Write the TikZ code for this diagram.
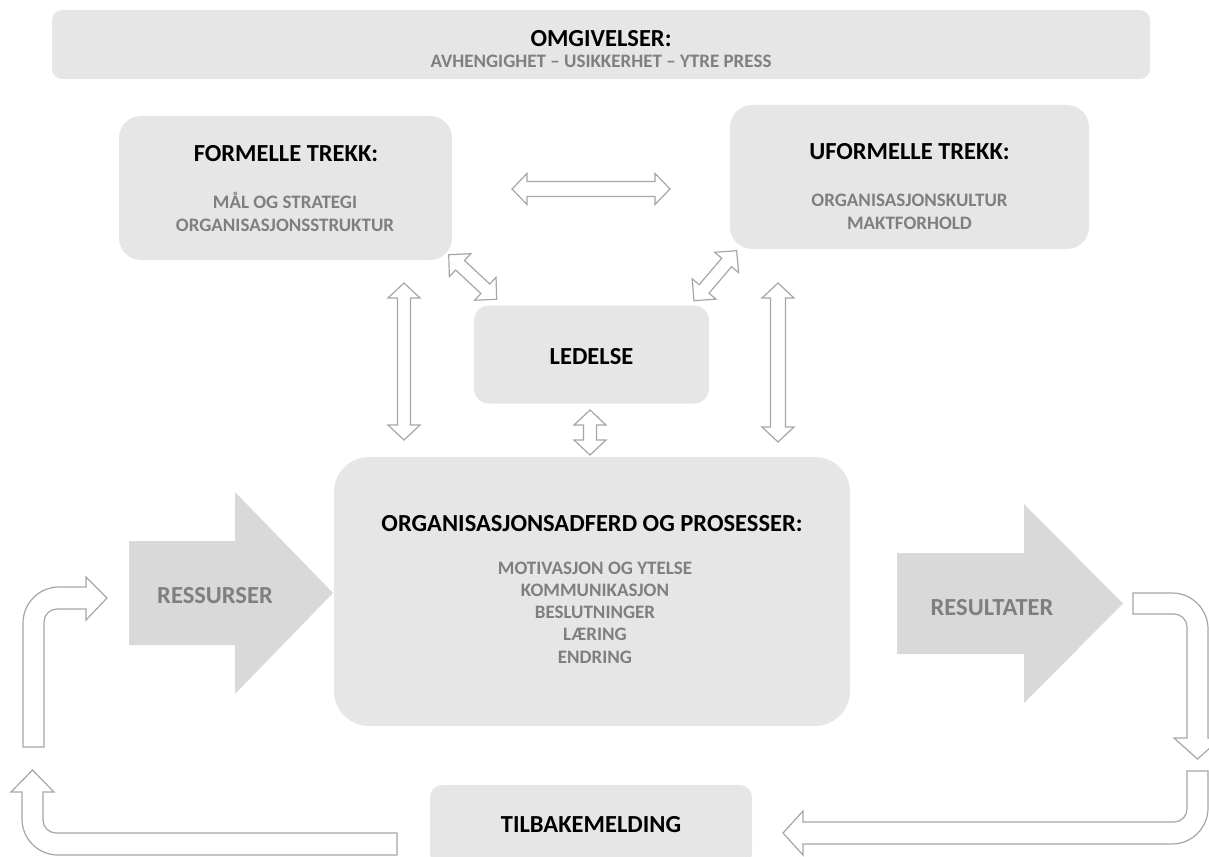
\documentclass[tikz,border=0pt]{standalone}
\usepackage{fontspec}
\setmainfont{Carlito}
\usetikzlibrary{calc}

\definecolor{boxfill}{HTML}{E6E6E6}
\definecolor{blockfill}{HTML}{D9D9D9}
\definecolor{softtext}{HTML}{7F7F7F}
\definecolor{outline}{HTML}{A6A6A6}

% Hollow two-headed arrow between two named points:
% #1,#2 end points, #3 shaft half width, #4 head half width, #5 head length
\newcommand\twoway[5]{%
  \pgfmathsetmacro\dS{veclen(#5,#3)}\pgfmathsetmacro\aS{atan2(#3,#5)}%
  \pgfmathsetmacro\dH{veclen(#5,#4)}\pgfmathsetmacro\aH{atan2(#4,#5)}%
  \draw[hollow] (#1) -- ($(#1)!\dH pt!\aH:(#2)$) -- ($(#1)!\dS pt!\aS:(#2)$)
    -- ($(#2)!\dS pt!-\aS:(#1)$) -- ($(#2)!\dH pt!-\aH:(#1)$) -- (#2)
    -- ($(#2)!\dH pt!\aH:(#1)$) -- ($(#2)!\dS pt!\aS:(#1)$)
    -- ($(#1)!\dS pt!-\aS:(#2)$) -- ($(#1)!\dH pt!-\aH:(#2)$) -- cycle;}

\begin{document}
\begin{tikzpicture}[x=1pt,y=-1pt,
  panel/.style={fill=boxfill, draw=none, inner sep=0pt},
  title/.style={anchor=base, inner sep=0pt, text=black,
    font=\fontsize{24.5}{28}\selectfont\bfseries},
  item/.style={anchor=base, inner sep=0pt, text=softtext,
    font=\fontsize{19}{22}\selectfont\bfseries},
  bigitem/.style={anchor=base, inner sep=0pt, text=softtext,
    font=\fontsize{24.5}{28}\selectfont\bfseries},
  hollow/.style={draw=outline, fill=white, line width=1.2pt, line join=miter},
  block/.style={fill=blockfill}]

\useasboundingbox (0,0) rectangle (1209,856);

% ---- panels ----
\node[panel, rounded corners=10pt, minimum width=1098pt, minimum height=69pt] (env) at (601,44.5) {};
\node[panel, rounded corners=22pt, minimum width=333pt, minimum height=144pt] (formal) at (285.5,188) {};
\node[panel, rounded corners=22pt, minimum width=359pt, minimum height=144pt] (informal) at (909.5,177) {};
\node[panel, rounded corners=15pt, minimum width=235pt, minimum height=98pt] (lead) at (591.5,354.5) {};
\node[panel, rounded corners=35pt, minimum width=516pt, minimum height=269pt] (org) at (592,591.5) {};
\node[panel, rounded corners=12pt, minimum width=322pt, minimum height=81pt] (feedback) at (591,825.5) {};

% ---- block arrows ----
\fill[block] (129,541) -- (235,541) -- (235,492) -- (333,593) -- (235,694) -- (235,645) -- (129,645) -- cycle;
\fill[block] (897,553) -- (1024,553) -- (1024,504) -- (1123,603.5) -- (1024,703) -- (1024,654) -- (897,654) -- cycle;

% ---- texts ----
\node[title] (envT) at (601,47) {OMGIVELSER:};
\node[item] (envS) at (601,68) {AVHENGIGHET – USIKKERHET – YTRE PRESS};

\node[title] (formalT) at (286,161) {FORMELLE TREKK:};
\node[item] (formalA) at (285,208) {MÅL OG STRATEGI};
\node[item] (formalB) at (285,231) {ORGANISASJONSSTRUKTUR};

\node[title] (informalT) at (909.5,159.5) {UFORMELLE TREKK:};
\node[item] (informalA) at (909.5,206.5) {ORGANISASJONSKULTUR};
\node[item] (informalB) at (909.5,229.5) {MAKTFORHOLD};

\node[title] (leadT) at (591.5,364) {LEDELSE};

\node[title] (orgT) at (592,531) {ORGANISASJONSADFERD OG PROSESSER:};
\node[item] (orgA) at (595,574) {MOTIVASJON OG YTELSE};
\node[item] (orgB) at (595,596) {KOMMUNIKASJON};
\node[item] (orgC) at (595,618) {BESLUTNINGER};
\node[item] (orgD) at (595,640) {LÆRING};
\node[item] (orgE) at (595,663) {ENDRING};

\node[bigitem] (inT) at (215,603) {RESSURSER};
\node[bigitem] (outT) at (992,615) {RESULTATER};
\node[title] (feedbackT) at (591,832) {TILBAKEMELDING};

% ---- two-headed links ----
\coordinate (hL) at (512,189);   \coordinate (hR) at (670,189);
\coordinate (vL1) at (404,283);  \coordinate (vL2) at (404,440);
\coordinate (vR1) at (778,283);  \coordinate (vR2) at (778,442);
\coordinate (vM1) at (590,410);  \coordinate (vM2) at (590,455);
\coordinate (dL1) at (448.7,254.7); \coordinate (dL2) at (496.7,299.3);
\coordinate (dR1) at (736.7,250.7); \coordinate (dR2) at (694,300.7);

\twoway{hL}{hR}{7.5}{15.5}{15}
\twoway{vL1}{vL2}{6.5}{16}{15}
\twoway{vR1}{vR2}{7.5}{16}{15}
\twoway{vM1}{vM2}{6.5}{16}{15}
\twoway{dL1}{dL2}{6.5}{15.7}{15.5}
\twoway{dR1}{dR2}{6.5}{15.7}{15.5}

% ---- feedback loop (bent hollow arrows) ----
% from the feedback panel to the left, then up
\draw[hollow] (397,833) -- (397,855) -- (58,855)
  .. controls (38.1,855) and (22,838.9) .. (22,819)
  -- (22,792) -- (11,792) -- (32.5,770) -- (54,792) -- (43,792) -- (43,820)
  .. controls (43,827.2) and (48.8,833) .. (56,833) -- cycle;
% up the left side and into the resources arrow
\draw[hollow] (23,747) -- (23,623)
  .. controls (23,603.1) and (39.1,587) .. (59,587)
  -- (86,587) -- (86,577) -- (107,598) -- (86,620) -- (86,609) -- (57,609)
  .. controls (49.8,609) and (44,614.8) .. (44,622) -- (44,747) -- cycle;
% out of the results arrow, then down the right side
\draw[hollow] (1133,593) -- (1172,593)
  .. controls (1191.9,593) and (1208,609.1) .. (1208,629)
  -- (1208,738) -- (1221,738) -- (1197.5,759) -- (1174,738) -- (1187,738) -- (1187,627)
  .. controls (1187,619.8) and (1181.2,614) .. (1174,614) -- (1133,614) -- cycle;
% down the right side and back towards the feedback panel
\draw[hollow] (1187,771) -- (1208,771) -- (1208,808)
  .. controls (1208,827.9) and (1191.9,844) .. (1172,844)
  -- (803,844) -- (803,855) -- (783,833) -- (803,811) -- (803,822) -- (1174,822)
  .. controls (1181.2,822) and (1187,816.2) .. (1187,809) -- cycle;

\end{tikzpicture}
\end{document}
